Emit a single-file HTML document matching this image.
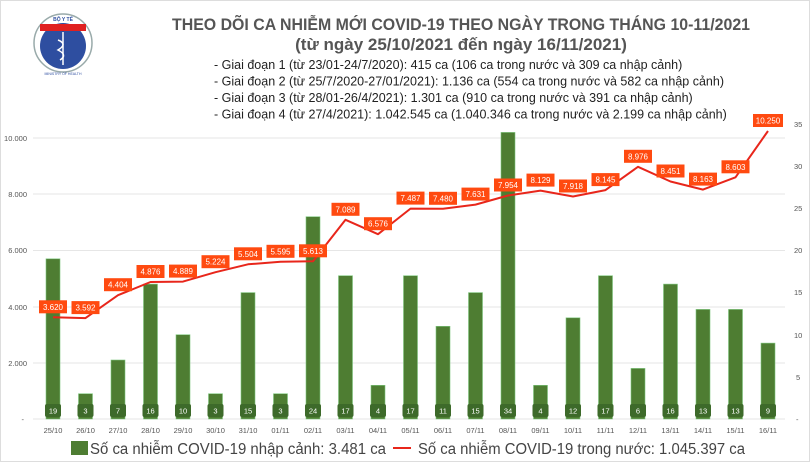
<!DOCTYPE html>
<html><head><meta charset="utf-8"><style>
html,body{margin:0;padding:0;background:#fff;}
svg{display:block;font-family:"Liberation Sans",sans-serif;}
</style></head><body>
<svg width="810" height="462" viewBox="0 0 810 462" xmlns="http://www.w3.org/2000/svg">
<rect x="0" y="0" width="810" height="462" fill="#fff"/>
<rect x="0.5" y="0.5" width="809" height="461" fill="none" stroke="#ddd"/>
<!-- logo -->
<g>
<circle cx="63" cy="43" r="29" fill="#fff" stroke="#9aa" stroke-width="1.5"/>
<circle cx="63" cy="46" r="23" fill="#2e4ea0"/>
<rect x="40" y="24" width="46" height="7" fill="#e02020"/>
<text x="63" y="21" font-size="5" fill="#2e4ea0" text-anchor="middle" font-weight="bold">BỘ Y TẾ</text>
<line x1="63" y1="32" x2="63" y2="65" stroke="#fff" stroke-width="1.5"/>
<path d="M58 40 Q68 44 58 50 Q68 55 60 60" fill="none" stroke="#fff" stroke-width="1.5"/>
<text x="63" y="75" font-size="3.5" fill="#2e4ea0" text-anchor="middle">MINISTRY OF HEALTH</text>
</g>
<!-- title -->
<text x="172" y="30" font-size="17" font-weight="bold" fill="#555" textLength="578" lengthAdjust="spacingAndGlyphs">THEO DÕI CA NHIỄM MỚI COVID-19 THEO NGÀY TRONG THÁNG 10-11/2021</text>
<text x="461" y="50" font-size="17" font-weight="bold" fill="#555" text-anchor="middle">(từ ngày 25/10/2021 đến ngày 16/11/2021)</text>
<g font-size="12.5" fill="#222">
<text x="214" y="69">- Giai đoạn 1 (từ 23/01-24/7/2020): 415 ca (106 ca trong nước và 309 ca nhập cảnh)</text>
<text x="214" y="85.5">- Giai đoạn 2 (từ 25/7/2020-27/01/2021): 1.136 ca (554 ca trong nước và 582 ca nhập cảnh)</text>
<text x="214" y="102">- Giai đoạn 3 (từ 28/01-26/4/2021): 1.301 ca (910 ca trong nước và 391 ca nhập cảnh)</text>
<text x="214" y="118.5">- Giai đoạn 4 (từ 27/4/2021): 1.042.545 ca (1.040.346 ca trong nước và 2.199 ca nhập cảnh)</text>
</g>
<!-- grid -->
<g stroke="#e6e6e6" stroke-width="1">
<line x1="33" y1="138" x2="785" y2="138"/><line x1="33" y1="194" x2="785" y2="194"/>
<line x1="33" y1="250.5" x2="785" y2="250.5"/><line x1="33" y1="307" x2="785" y2="307"/>
<line x1="33" y1="363" x2="785" y2="363"/><line x1="33" y1="419" x2="785" y2="419"/>
</g>
<g font-size="7.5" fill="#555" text-anchor="end">
<text x="27" y="141">10.000</text><text x="27" y="197">8.000</text><text x="27" y="253">6.000</text>
<text x="27" y="310">4.000</text><text x="27" y="366">2.000</text><text x="24" y="422">-</text>
</g>
<g font-size="7.5" fill="#555">
<text x="794" y="127">35</text><text x="794" y="169">30</text><text x="794" y="211">25</text>
<text x="794" y="253">20</text><text x="794" y="295">15</text><text x="794" y="338">10</text>
<text x="796" y="380">5</text><text x="796" y="422">-</text>
</g>
<!-- bars -->
<g fill="#4e7d32" stroke="#7fc77f" stroke-width="0.6">
<rect x="46" y="258.8" width="14" height="160.2"/>
<rect x="78.5" y="393.7" width="14" height="25.3"/>
<rect x="111" y="360" width="14" height="59"/>
<rect x="143.5" y="284.1" width="14" height="134.9"/>
<rect x="176" y="334.7" width="14" height="84.3"/>
<rect x="208.5" y="393.7" width="14" height="25.3"/>
<rect x="241" y="292.6" width="14" height="126.4"/>
<rect x="273.5" y="393.7" width="14" height="25.3"/>
<rect x="306" y="216.7" width="14" height="202.3"/>
<rect x="338.5" y="275.7" width="14" height="143.3"/>
<rect x="371" y="385.3" width="14" height="33.7"/>
<rect x="403.5" y="275.7" width="14" height="143.3"/>
<rect x="436" y="326.3" width="14" height="92.7"/>
<rect x="468.5" y="292.6" width="14" height="126.4"/>
<rect x="501" y="132.4" width="14" height="286.6"/>
<rect x="533.5" y="385.3" width="14" height="33.7"/>
<rect x="566" y="317.8" width="14" height="101.2"/>
<rect x="598.5" y="275.7" width="14" height="143.3"/>
<rect x="631" y="368.4" width="14" height="50.6"/>
<rect x="663.5" y="284.1" width="14" height="134.9"/>
<rect x="696" y="309.4" width="14" height="109.6"/>
<rect x="728.5" y="309.4" width="14" height="109.6"/>
<rect x="761" y="343.1" width="14" height="75.9"/>
</g>
<!-- bar labels -->
<g fill="#3d6a2a">
<rect x="45" y="404" width="16" height="13" rx="2"/><rect x="77.5" y="404" width="16" height="13" rx="2"/>
<rect x="110" y="404" width="16" height="13" rx="2"/><rect x="142.5" y="404" width="16" height="13" rx="2"/>
<rect x="175" y="404" width="16" height="13" rx="2"/><rect x="207.5" y="404" width="16" height="13" rx="2"/>
<rect x="240" y="404" width="16" height="13" rx="2"/><rect x="272.5" y="404" width="16" height="13" rx="2"/>
<rect x="305" y="404" width="16" height="13" rx="2"/><rect x="337.5" y="404" width="16" height="13" rx="2"/>
<rect x="370" y="404" width="16" height="13" rx="2"/><rect x="402.5" y="404" width="16" height="13" rx="2"/>
<rect x="435" y="404" width="16" height="13" rx="2"/><rect x="467.5" y="404" width="16" height="13" rx="2"/>
<rect x="500" y="404" width="16" height="13" rx="2"/><rect x="532.5" y="404" width="16" height="13" rx="2"/>
<rect x="565" y="404" width="16" height="13" rx="2"/><rect x="597.5" y="404" width="16" height="13" rx="2"/>
<rect x="630" y="404" width="16" height="13" rx="2"/><rect x="662.5" y="404" width="16" height="13" rx="2"/>
<rect x="695" y="404" width="16" height="13" rx="2"/><rect x="727.5" y="404" width="16" height="13" rx="2"/>
<rect x="760" y="404" width="16" height="13" rx="2"/>
</g>
<g font-size="7.5" fill="#fff" text-anchor="middle">
<text x="53" y="413.5">19</text><text x="85.5" y="413.5">3</text><text x="118" y="413.5">7</text>
<text x="150.5" y="413.5">16</text><text x="183" y="413.5">10</text><text x="215.5" y="413.5">3</text>
<text x="248" y="413.5">15</text><text x="280.5" y="413.5">3</text><text x="313" y="413.5">24</text>
<text x="345.5" y="413.5">17</text><text x="378" y="413.5">4</text><text x="410.5" y="413.5">17</text>
<text x="443" y="413.5">11</text><text x="475.5" y="413.5">15</text><text x="508" y="413.5">34</text>
<text x="540.5" y="413.5">4</text><text x="573" y="413.5">12</text><text x="605.5" y="413.5">17</text>
<text x="638" y="413.5">6</text><text x="670.5" y="413.5">16</text><text x="703" y="413.5">13</text>
<text x="735.5" y="413.5">13</text><text x="768" y="413.5">9</text>
</g>
<!-- x labels -->
<g font-size="7.5" fill="#555" text-anchor="middle">
<text x="53" y="433">25/10</text><text x="85.5" y="433">26/10</text><text x="118" y="433">27/10</text>
<text x="150.5" y="433">28/10</text><text x="183" y="433">29/10</text><text x="215.5" y="433">30/10</text>
<text x="248" y="433">31/10</text><text x="280.5" y="433">01/11</text><text x="313" y="433">02/11</text>
<text x="345.5" y="433">03/11</text><text x="378" y="433">04/11</text><text x="410.5" y="433">05/11</text>
<text x="443" y="433">06/11</text><text x="475.5" y="433">07/11</text><text x="508" y="433">08/11</text>
<text x="540.5" y="433">09/11</text><text x="573" y="433">10/11</text><text x="605.5" y="433">11/11</text>
<text x="638" y="433">12/11</text><text x="670.5" y="433">13/11</text><text x="703" y="433">14/11</text>
<text x="735.5" y="433">15/11</text><text x="768" y="433">16/11</text>
</g>
<!-- line -->
<polyline fill="none" stroke="#e8261b" stroke-width="2" stroke-linejoin="round" points="53,317.3 85.5,318.1 118,295.2 150.5,282 183,281.6 215.5,272.2 248,264.3 280.5,261.8 313,261.3 345.5,219.8 378,234.2 410.5,208.6 443,208.8 475.5,204.6 508,195.5 540.5,190.6 573,196.5 605.5,190.1 638,166.8 670.5,181.5 703,189.6 735.5,177.3 768,131"/>
<!-- line labels -->
<g fill="#ff4a10">
<rect x="39" y="300.3" width="28" height="13"/><rect x="71.5" y="301.1" width="28" height="13"/>
<rect x="104" y="278.2" width="28" height="13"/><rect x="136.5" y="265" width="28" height="13"/>
<rect x="169" y="264.6" width="28" height="13"/><rect x="201.5" y="255.2" width="28" height="13"/>
<rect x="234" y="247.3" width="28" height="13"/><rect x="266.5" y="244.8" width="28" height="13"/>
<rect x="299" y="244.3" width="28" height="13"/><rect x="331.5" y="202.8" width="28" height="13"/>
<rect x="364" y="217.2" width="28" height="13"/><rect x="396.5" y="191.6" width="28" height="13"/>
<rect x="429" y="191.8" width="28" height="13"/><rect x="461.5" y="187.6" width="28" height="13"/>
<rect x="494" y="178.5" width="28" height="13"/><rect x="526.5" y="173.6" width="28" height="13"/>
<rect x="559" y="179.5" width="28" height="13"/><rect x="591.5" y="173.1" width="28" height="13"/>
<rect x="624" y="149.8" width="28" height="13"/><rect x="656.5" y="164.5" width="28" height="13"/>
<rect x="689" y="172.6" width="28" height="13"/><rect x="721.5" y="160.3" width="28" height="13"/>
<rect x="753" y="114" width="30" height="13"/>
</g>
<g font-size="8" fill="#fff" text-anchor="middle">
<text x="53" y="309.8">3.620</text><text x="85.5" y="310.6">3.592</text><text x="118" y="287.7">4.404</text>
<text x="150.5" y="274.5">4.876</text><text x="183" y="274.1">4.889</text><text x="215.5" y="264.7">5.224</text>
<text x="248" y="256.8">5.504</text><text x="280.5" y="254.3">5.595</text><text x="313" y="253.8">5.613</text>
<text x="345.5" y="212.3">7.089</text><text x="378" y="226.7">6.576</text><text x="410.5" y="201.1">7.487</text>
<text x="443" y="201.3">7.480</text><text x="475.5" y="197.1">7.631</text><text x="508" y="188">7.954</text>
<text x="540.5" y="183.1">8.129</text><text x="573" y="189">7.918</text><text x="605.5" y="182.6">8.145</text>
<text x="638" y="159.3">8.976</text><text x="670.5" y="174">8.451</text><text x="703" y="182.1">8.163</text>
<text x="735.5" y="169.8">8.603</text><text x="768" y="123.5">10.250</text>
</g>
<!-- legend -->
<rect x="71" y="441" width="17" height="14" fill="#4e7d32"/>
<text x="90" y="454" font-size="15.5" fill="#444" textLength="296" lengthAdjust="spacingAndGlyphs">Số ca nhiễm COVID-19 nhập cảnh: 3.481 ca</text>
<line x1="393" y1="448" x2="411" y2="448" stroke="#e8261b" stroke-width="2"/>
<text x="418" y="454" font-size="15.5" fill="#444" textLength="327" lengthAdjust="spacingAndGlyphs">Số ca nhiễm COVID-19 trong nước: 1.045.397 ca</text>
</svg>
</body></html>
